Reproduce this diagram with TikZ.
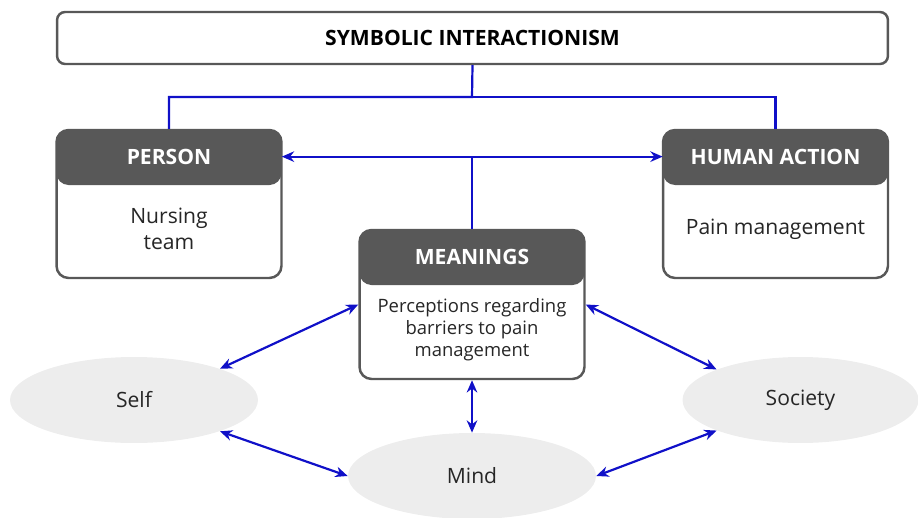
\documentclass[tikz,border=0pt]{standalone}
\usepackage{fontspec}
\setmainfont{Open Sans}
\usetikzlibrary{arrows.meta,positioning,shapes.geometric}

\definecolor{headgray}{HTML}{585858}
\definecolor{textgray}{HTML}{262626}
\definecolor{linkblue}{HTML}{1010C8}
\definecolor{ovalgray}{HTML}{EDEDED}

\tikzset{
  titlebox/.style={draw=headgray, line width=1.4pt, fill=white, rounded corners=0.16cm,
    minimum width=16.62cm, minimum height=1.04cm,
    font=\fontsize{12}{14}\selectfont\bfseries, text=black},
  conceptbox/.style={draw=headgray, line width=1.4pt, fill=white, rounded corners=0.24cm,
    minimum width=4.5cm, minimum height=2.96cm,
    path picture={\fill[headgray] (path picture bounding box.north west)
      rectangle ([yshift=-1.1cm]path picture bounding box.north east);}},
  headtxt/.style={anchor=north, minimum width=4.5cm, minimum height=1.1cm, inner sep=0pt,
    font=\fontsize{12}{14}\selectfont\bfseries, text=white},
  bodytxt/.style={align=center, text=textgray, font=\fontsize{12}{14.5}\selectfont},
  smalltxt/.style={bodytxt, font=\fontsize{10.5}{12.5}\selectfont},
  oval/.style={ellipse, fill=ovalgray, inner sep=0pt, minimum width=4.96cm, minimum height=1.72cm,
    text=textgray, font=\fontsize{12}{14}\selectfont},
  link/.style={draw=linkblue, line width=1.25pt},
  twoway/.style={link, {Stealth[length=7pt,width=6pt]}-{Stealth[length=7pt,width=6pt]}}
}

\begin{document}
\begin{tikzpicture}[x=0.02cm, y=-0.02cm]
  \useasboundingbox (0,0) rectangle (918,517);

  % top
  \node[titlebox] (title) at (472.5,38) {SYMBOLIC INTERACTIONISM};

  % boxes
  \node[conceptbox] (person) at (169,204) {};
  \node[headtxt] (person-head) at (person.north) {PERSON};
  \node[bodytxt] (person-text) at (169,229) {Nursing\\team};

  \node[conceptbox] (action) at (775.5,204) {};
  \node[headtxt] (action-head) at (action.north) {HUMAN ACTION};
  \node[bodytxt] (action-text) at (775.5,229) {Pain management};

  \node[conceptbox, minimum height=2.98cm] (meanings) at (472,304.5) {};
  \node[headtxt] (meanings-head) at (meanings.north) {MEANINGS};
  \node[smalltxt] (meanings-text) at (472,330) {Perceptions regarding\\barriers to pain\\management};

  % ovals
  \node[oval] (self) at (134,400) {Self};
  \node[oval] (mind) at (472,476) {Mind};
  \node[oval, minimum width=4.72cm] (society) at (800.5,400) {Society};

  % links
  \coordinate (fork) at (472,97);
  \draw[link] (title.south) -- (fork) -| (person.north);
  \draw[link] (fork) -| (action.north);
  \draw[twoway] (person-head.east) -- (action-head.west);
  \draw[link] (meanings.north) -- (meanings.north |- person-head.east);

  \draw[twoway] (self.20) -- (meanings.west);
  \draw[twoway] (meanings.east) -- (society.160);
  \draw[twoway] (meanings.south) -- (mind.north);
  \draw[twoway] (self.-20) -- (mind.west);
  \draw[twoway] (mind.east) -- (society.200);
\end{tikzpicture}
\end{document}
